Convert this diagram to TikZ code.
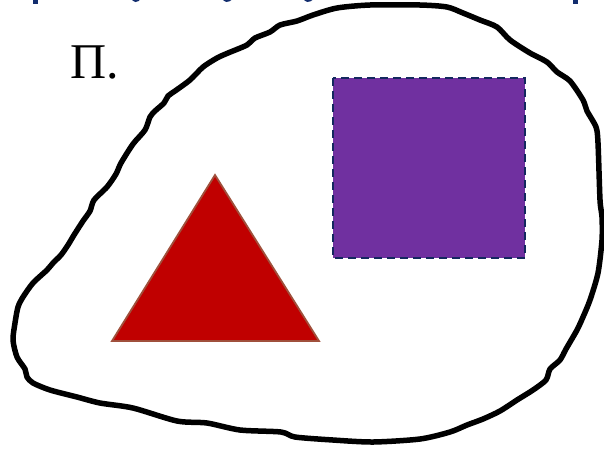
\documentclass[tikz,border=0pt]{standalone}
\usepackage{fontspec}
\setmainfont{Liberation Serif}
\definecolor{blobblack}{RGB}{0,0,0}
\definecolor{trired}{RGB}{192,0,0}
\definecolor{triedge}{RGB}{160,80,60}
\definecolor{sqpurple}{RGB}{112,48,160}
\definecolor{sqedge}{RGB}{20,40,95}
\definecolor{topblue}{RGB}{18,45,110}
\tikzset{
  blob/.style={draw=blobblack, line width=5.5pt, line join=round, line cap=round},
  tri/.style={fill=trired, draw=triedge, line width=1.8pt, line join=miter},
  sq/.style={fill=sqpurple, draw=sqedge, line width=2.8pt, dash pattern=on 8pt off 5pt},
  frag/.style={fill=topblue, draw=none},
  label/.style={font=\fontsize{50}{60}\selectfont, inner sep=0pt, anchor=base west}
}
\begin{document}
\begin{tikzpicture}[x=1pt, y=-1pt]
\useasboundingbox (0,0) rectangle (604,451);
\fill[white] (0,0) rectangle (604,451);
% fragments of cut-off text at the top
\begin{scope}
\clip (0,0) rectangle (604,4.5);
\fill[frag] (32.5,-5) rectangle (37.5,3.5);
\fill[frag] (131,-3) .. controls (132,3) and (138,4) .. (141,-2) -- cycle;
\fill[frag] (222,-3) .. controls (223,3) and (229,4) .. (233,-2) -- cycle;
\fill[frag] (303,-3) .. controls (304,3) and (310,4) .. (314,-2) -- cycle;
\fill[frag] (572.5,-5) rectangle (577.5,3.5);
\end{scope}
% blob outline
\draw[blob] plot[smooth cycle, tension=0.45] coordinates {
(255,38) (270,32) (280,25) (297,21) (313,15) (337,8) (370,5) (420,5) (447,7)
(463,13) (480,20) (497,27) (510,40) (530,53) (547,62) (557,72) (570,81)
(583,100) (587,111) (596,127) (598,143) (600,200) (602,217) (602,240)
(598,273) (590,300) (583,317) (577,330) (566,349) (560,360) (550,369)
(546,380) (533,390) (517,400) (500,411) (483,419) (467,425) (450,432)
(420,439) (373,442) (333,440) (295,437) (281,432) (240,430) (207,423)
(177,421) (133,408) (100,403) (77,397) (50,390) (33,383) (27,377)
(25,369) (17,357) (13,340) (15,323) (18,307) (23,297) (33,283) (47,270)
(53,263) (61,255) (68,245) (74,235) (83,221) (90,211) (94,200) (107,187)
(116,174) (121,163) (133,144) (145,130) (150,117) (155,111) (164,103)
(168,96) (175,91) (190,80) (203,67) (217,58) (228,53) (247,45)};
% shapes
\node[label] (lbl) at (70,78) {П.};
\draw[tri] (215,175) coordinate (apex) -- (319,341) coordinate (br) -- (112,341) coordinate (bl) -- cycle;
\draw[sq] (333,78) rectangle (525,258);
\end{tikzpicture}
\end{document}
